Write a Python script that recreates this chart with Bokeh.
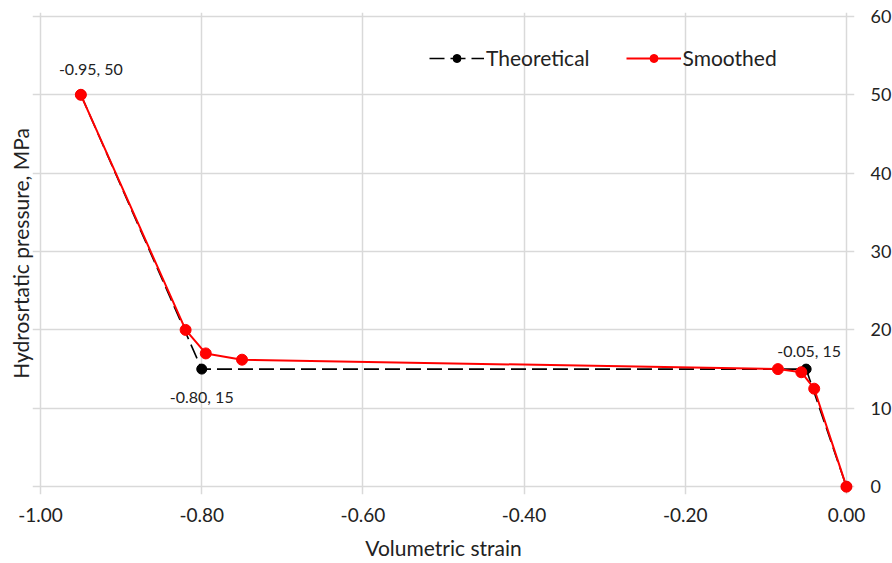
from bokeh.plotting import figure
from bokeh.models import Range1d, NumeralTickFormatter, FixedTicker, Title, Legend, LegendItem, ColumnDataSource
from bokeh.core.properties import value
from bokeh.embed import file_html
from bokeh.resources import INLINE

# Data
theo_x = [-0.95, -0.80, -0.05, 0.00]
theo_y = [50, 15, 15, 0]
smooth_x = [-0.95, -0.82, -0.795, -0.75, -0.085, -0.056, -0.040, 0.00]
smooth_y = [50, 20, 17.0, 16.2, 15.0, 14.6, 12.5, 0]
label_x = [-0.95, -0.80, -0.05]
label_y = [50, 15, 15]
label_text = ["-0.95, 50", "-0.80, 15", "-0.05, 15"]
x_ticks = [-1.0, -0.8, -0.6, -0.4, -0.2, 0.0]
y_ticks = [0, 10, 20, 30, 40, 50, 60]

FONT = "Lato"
GRID = "#d9d9d9"
TXT = "#222222"

p = figure(frame_width=822, frame_height=482,
           min_border_left=32, min_border_right=38,
           min_border_top=12, min_border_bottom=69,
           x_range=Range1d(-1.01, 0.01), y_range=Range1d(-1.0, 60.5),
           y_axis_location="right",
           output_backend="svg", toolbar_location=None)
p.outline_line_color = None
p.background_fill_color = "white"
p.border_fill_color = "white"

# axes
p.xaxis.ticker = FixedTicker(ticks=x_ticks)
p.xaxis.formatter = NumeralTickFormatter(format="0.00")
p.yaxis.ticker = FixedTicker(ticks=y_ticks)
for ax in (p.xaxis[0], p.yaxis[0]):
    ax.axis_line_color = None
    ax.major_tick_line_color = None
    ax.minor_tick_line_color = None
    ax.major_label_text_font = FONT
    ax.major_label_text_font_size = "19px"
    ax.major_label_text_color = TXT
p.yaxis.major_label_text_font_size = "18px"
p.xaxis.major_label_standoff = 7
p.yaxis.major_label_standoff = 10
p.xaxis.axis_label = "Volumetric strain"
p.xaxis.axis_label_text_font = FONT
p.xaxis.axis_label_text_font_size = "21px"
p.xaxis.axis_label_text_font_style = "normal"
p.xaxis.axis_label_text_color = TXT
p.xaxis.axis_label_standoff = 10

p.add_layout(Title(text="Hydrosrtatic pressure, MPa", align="center",
                   text_font=FONT, text_font_size="21px", standoff=0,
                   text_font_style="normal", text_color=TXT), "left")

p.xgrid.grid_line_color = GRID
p.ygrid.grid_line_color = GRID
p.xgrid.grid_line_width = 1.5
p.ygrid.grid_line_width = 1.5

# series
tl = p.line(theo_x, theo_y, line_color="black", line_width=1.6, line_dash="15 6")
ts = p.scatter(theo_x, theo_y, size=10, fill_color="black", line_color="black")
sl = p.line(smooth_x, smooth_y, line_color="#ff0000", line_width=2)
ss = p.scatter(smooth_x, smooth_y, size=11, fill_color="#ff0000", line_color="#ff0000")

# data labels
src = ColumnDataSource(dict(x=label_x, y=label_y, t=label_text,
                            dx=[10, 0, 3], dy=[-26, 27, -19]))
p.text(x="x", y="y", text="t", x_offset="dx", y_offset="dy", source=src,
       text_font=value(FONT), text_font_size="16px", text_color=TXT,
       text_align="center", text_baseline="middle")

legend = Legend(items=[LegendItem(label="Theoretical", renderers=[tl, ts]),
                       LegendItem(label="Smoothed", renderers=[sl, ss])],
                orientation="horizontal", location=(397, 424),
                glyph_width=55, glyph_height=20, label_standoff=2, spacing=36,
                padding=0, margin=0,
                label_text_font=FONT, label_text_font_size="21px",
                label_text_color=TXT,
                border_line_color=None, background_fill_alpha=0)
p.add_layout(legend, "center")

open("out.html", "w").write(file_html(p, INLINE))
